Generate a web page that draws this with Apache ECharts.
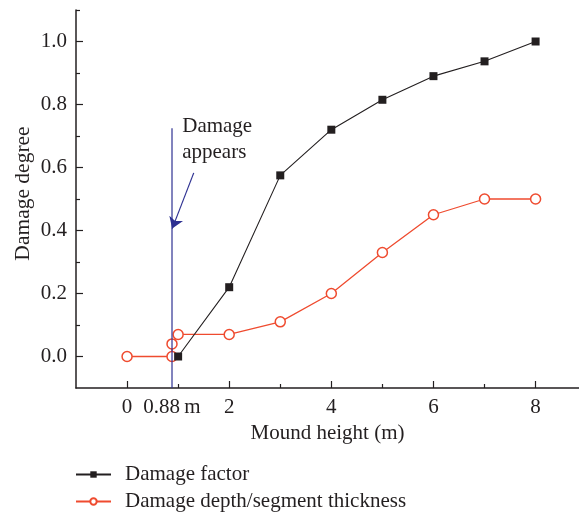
<!DOCTYPE html>
<html>
<head>
<meta charset="utf-8">
<script src="https://cdn.jsdelivr.net/npm/echarts@6/dist/echarts.min.js"></script>
<style>
  html, body { margin: 0; padding: 0; background: #fff; }
  #chart { width: 579px; height: 514px; }
</style>
</head>
<body>
<div id="chart"></div>
<script>
// Damage factor vs. mound height
const factorX = [1, 2, 3, 4, 5, 6, 7, 8];
const factorY = [0, 0.22, 0.575, 0.72, 0.815, 0.89, 0.937, 1.0];

// Damage depth / segment thickness vs. mound height
const depthX = [0, 0.88, 0.88, 1, 2, 3, 4, 5, 6, 7, 8];
const depthY = [0, 0, 0.04, 0.07, 0.07, 0.11, 0.2, 0.33, 0.45, 0.5, 0.5];

// Axis ticks and labels
const xMajorTicks = [0, 2, 4, 6, 8];
const xMinorTicks = [1, 3, 5, 7];
const xLabels = [0, 0.88, 2, 4, 6, 8];
const yMajorTicks = [0, 0.2, 0.4, 0.6, 0.8, 1.0];
const yMinorTicks = [0.1, 0.3, 0.5, 0.7, 0.9, 1.1];

// Onset of damage marker
const onsetX = 0.88;
const onsetLine = [[onsetX, -0.1], [onsetX, 0.725]];
const arrowFrom = [1.306, 0.583];
const arrowTo = [0.884, 0.406];
const noteAt = [1.08, 0.69];
const noteText = 'Damage\nappears';

const FONT = 'Liberation Serif';
const FS = 21;
const INK = '#231f20';
const RED = '#ef4b2f';
const BLUE = '#2e3192';

const zip = (xs, ys) => xs.map((x, i) => [x, ys[i]]);

const chart = echarts.init(document.getElementById('chart'));

const xBase = {
  type: 'value', min: -1, max: 8.85, gridIndex: 0, position: 'bottom',
  splitLine: { show: false }
};
const yBase = {
  type: 'value', min: -0.1, max: 1.1, gridIndex: 0, position: 'left',
  splitLine: { show: false }
};

const legendText = { fontFamily: FONT, fontSize: FS, color: INK, padding: [0, 0, 0, 9] };

chart.setOption({
  animation: false,
  textStyle: { fontFamily: FONT, color: INK },
  grid: { left: 76, right: 0, top: 10, bottom: 126 },
  xAxis: [
    Object.assign({}, xBase, {
      axisLine: { show: true, onZero: false, lineStyle: { color: INK, width: 1.5 } },
      axisTick: { show: true, inside: true, length: 7, customValues: xMajorTicks,
                  lineStyle: { color: INK, width: 1.2 } },
      axisLabel: { show: true, customValues: xLabels, margin: 9,
                   fontFamily: FONT, fontSize: FS, color: INK,
                   formatter: v => (v === 0.88 ? '0.88\u2009m' : String(v)) },
      name: 'Mound height (m)', nameLocation: 'middle', nameGap: 35,
      nameTextStyle: { fontFamily: FONT, fontSize: FS, color: INK }
    }),
    Object.assign({}, xBase, {
      axisLine: { show: false, onZero: false },
      axisTick: { show: true, inside: true, length: 4, customValues: xMinorTicks,
                  lineStyle: { color: INK, width: 1.2 } },
      axisLabel: { show: false }
    })
  ],
  yAxis: [
    Object.assign({}, yBase, {
      axisLine: { show: true, onZero: false, lineStyle: { color: INK, width: 1.5 } },
      axisTick: { show: true, inside: true, length: 7, customValues: yMajorTicks,
                  lineStyle: { color: INK, width: 1.2 } },
      axisLabel: { show: true, customValues: yMajorTicks, margin: 9,
                   fontFamily: FONT, fontSize: FS, color: INK,
                   formatter: v => v.toFixed(1) },
      name: 'Damage degree', nameLocation: 'middle', nameGap: 42, nameRotate: 90,
      nameMoveOverlap: false,
      nameTextStyle: { fontFamily: FONT, fontSize: 21.5, color: INK, padding: [0, 0, 0, 11] }
    }),
    Object.assign({}, yBase, {
      axisLine: { show: false, onZero: false },
      axisTick: { show: true, inside: true, length: 4, customValues: yMinorTicks,
                  lineStyle: { color: INK, width: 1.2 } },
      axisLabel: { show: false }
    })
  ],
  legend: [
    {
      left: 70, top: 459, itemWidth: 35, itemHeight: 8,
      textStyle: legendText, data: ['Damage factor']
    },
    {
      left: 70, top: 486, itemWidth: 35, itemHeight: 8,
      textStyle: legendText, data: ['Damage depth/segment thickness']
    }
  ],
  series: [
    {
      name: 'Damage depth/segment thickness', type: 'line',
      xAxisIndex: 0, yAxisIndex: 0, z: 3,
      data: zip(depthX, depthY),
      symbol: 'circle', symbolSize: 10,
      itemStyle: { color: '#fff', borderColor: RED, borderWidth: 1.5 },
      lineStyle: { color: RED, width: 1.3 }
    },
    {
      name: 'Damage factor', type: 'line',
      xAxisIndex: 0, yAxisIndex: 0, z: 4,
      data: zip(factorX, factorY),
      symbol: 'rect', symbolSize: 8,
      itemStyle: { color: INK },
      lineStyle: { color: INK, width: 1.1 }
    },
    {
      name: 'onset', type: 'line', xAxisIndex: 0, yAxisIndex: 0, z: 5,
      data: onsetLine, symbol: 'none', silent: true,
      lineStyle: { color: BLUE, width: 1.2 }
    },
    {
      name: 'arrow', type: 'lines', coordinateSystem: 'cartesian2d',
      xAxisIndex: 0, yAxisIndex: 0, z: 5, silent: true,
      symbol: ['none', 'arrow'], symbolSize: [5, 11],
      lineStyle: { color: BLUE, width: 1.2, opacity: 1, curveness: 0 },
      data: [{ coords: [arrowFrom, arrowTo] }]
    },
    {
      name: 'note', type: 'scatter', xAxisIndex: 0, yAxisIndex: 0, z: 6,
      data: [noteAt], symbolSize: 0, silent: true,
      itemStyle: { opacity: 1, color: 'rgba(0,0,0,0)' },
      label: {
        show: true, position: 'right', distance: 0, opacity: 1,
        formatter: noteText, fontFamily: FONT, fontSize: FS,
        color: INK, lineHeight: 26, align: 'left'
      }
    }
  ]
});
</script>
</body>
</html>
